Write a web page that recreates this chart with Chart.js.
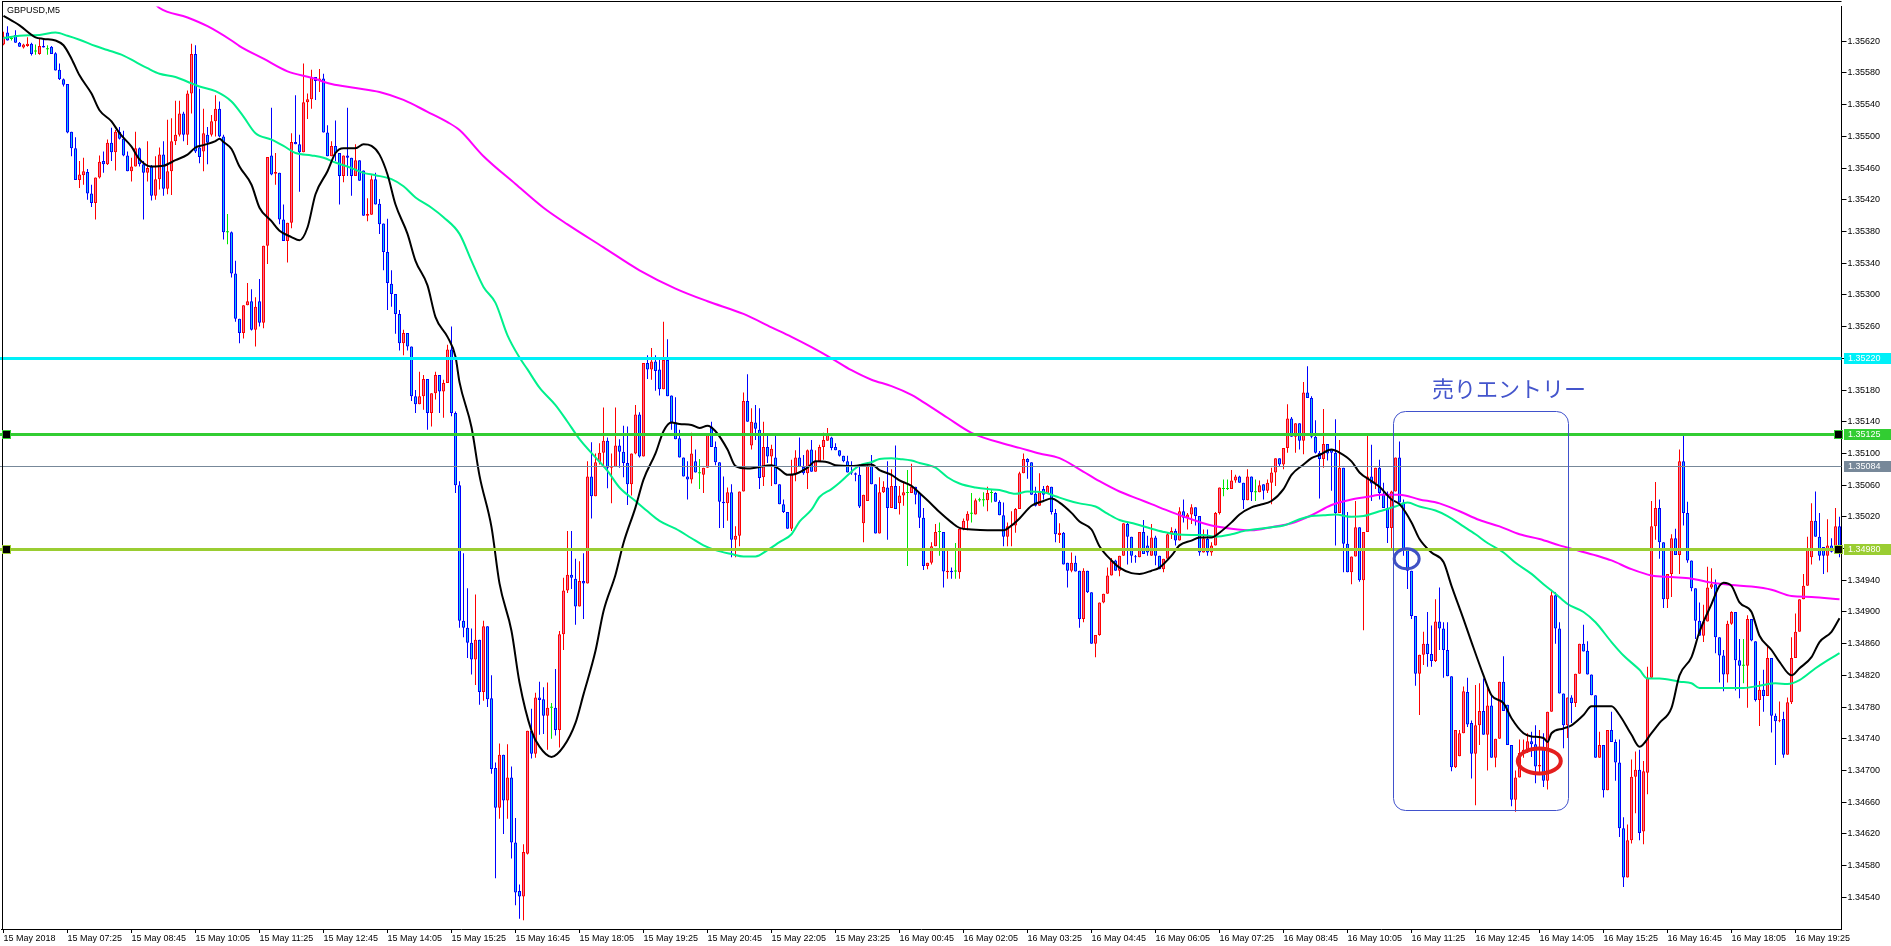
<!DOCTYPE html>
<html>
<head>
<meta charset="utf-8">
<title>GBPUSD,M5</title>
<script src="https://cdn.jsdelivr.net/npm/chart.js@4/dist/chart.umd.min.js"></script>
<style>
  html, body { margin: 0; padding: 0; background: #fff; }
  #wrap { width: 1891px; height: 946px; position: relative; }
</style>
</head>
<body>
<div id="wrap"><canvas id="chart"></canvas></div>
<script>
// GBPUSD M5, one entry per bar, first bar 15 May 2018 06:05
const openPrices = [
1.35616,1.35631,1.35623,1.35628,1.35618,1.35612,1.35614,1.35617,1.35607,1.35604,
1.35614,1.35610,1.35613,1.35605,1.35584,1.35572,1.35566,1.35506,1.35485,1.35445,
1.35451,1.35455,1.35428,1.35416,1.35448,1.35469,1.35465,1.35492,1.35480,1.35506,
1.35497,1.35476,1.35456,1.35462,1.35485,1.35465,1.35454,1.35462,1.35425,1.35446,
1.35477,1.35434,1.35456,1.35494,1.35502,1.35529,1.35502,1.35554,1.35604,1.35486,
1.35481,1.35502,1.35502,1.35519,1.35535,1.35500,1.35379,1.35379,1.35327,1.35270,
1.35252,1.35287,1.35292,1.35256,1.35292,1.35265,1.35362,1.35476,1.35453,1.35454,
1.35395,1.35368,1.35391,1.35493,1.35490,1.35480,1.35543,1.35547,1.35575,1.35570,
1.35573,1.35505,1.35475,1.35488,1.35479,1.35450,1.35476,1.35473,1.35450,1.35470,
1.35457,1.35400,1.35401,1.35446,1.35415,1.35390,1.35354,1.35314,1.35301,1.35276,
1.35239,1.35252,1.35235,1.35172,1.35162,1.35172,1.35194,1.35151,1.35176,1.35199,
1.35178,1.35189,1.35231,1.35151,1.35060,1.34889,1.34880,1.34861,1.34840,1.34865,
1.34799,1.34882,1.34791,1.34703,1.34653,1.34720,1.34662,1.34691,1.34609,1.34548,
1.34541,1.34595,1.34750,1.34721,1.34792,1.34790,1.34769,1.34779,1.34779,1.34751,
1.34872,1.34927,1.34947,1.34942,1.34907,1.34939,1.34936,1.35071,1.35046,1.35089,
1.35101,1.35116,1.35082,1.35083,1.35110,1.35102,1.35088,1.35061,1.35100,1.35149,
1.35096,1.35214,1.35206,1.35216,1.35206,1.35181,1.35218,1.35173,1.35139,1.35119,
1.35095,1.35071,1.35067,1.35090,1.35075,1.35073,1.35082,1.35134,1.35108,1.35089,
1.35039,1.35037,1.35051,1.34991,1.34996,1.35052,1.35166,1.35110,1.35139,1.35130,
1.35070,1.35108,1.35096,1.35095,1.35061,1.35036,1.35026,1.35005,1.35074,1.35095,
1.35083,1.35075,1.35105,1.35077,1.35090,1.35108,1.35116,1.35120,1.35108,1.35104,
1.35097,1.35090,1.35076,1.35075,1.35073,1.35012,1.35040,1.35084,1.35061,1.34999,
1.35051,1.35057,1.35031,1.35059,1.35037,1.35047,1.35050,1.35050,1.35058,1.35050,
1.35019,1.34958,1.34962,1.34983,1.35001,1.35001,1.34950,1.34952,1.34951,1.34950,
1.35005,1.35015,1.35024,1.35023,1.35041,1.35041,1.35041,1.35050,1.35050,1.35039,
1.35022,1.34995,1.35008,1.35009,1.35030,1.35075,1.35093,1.35089,1.35049,1.35034,
1.35055,1.35049,1.35058,1.35025,1.34997,1.35000,1.34962,1.34952,1.34962,1.34952,
1.34891,1.34952,1.34925,1.34860,1.34871,1.34912,1.34923,1.34946,1.34965,1.34952,
1.34971,1.35011,1.34995,1.34970,1.34969,1.35001,1.34984,1.34971,1.34994,1.34971,
1.34954,1.34967,1.34998,1.35002,1.34990,1.35027,1.35019,1.35023,1.35032,1.35021,
1.34975,1.34992,1.34975,1.34984,1.35025,1.35055,1.35055,1.35055,1.35066,1.35071,
1.35063,1.35041,1.35071,1.35051,1.35051,1.35061,1.35053,1.35063,1.35076,1.35094,
1.35086,1.35107,1.35144,1.35121,1.35138,1.35116,1.35177,1.35170,1.35121,1.35101,
1.35093,1.35112,1.35105,1.35101,1.35025,1.35082,1.34986,1.34950,1.34970,1.35007,
1.34940,1.35001,1.35071,1.35062,1.35082,1.35049,1.35031,1.35006,1.35052,1.35095,
1.35038,1.34979,1.34952,1.34895,1.34822,1.34846,1.34860,1.34847,1.34838,1.34888,
1.34879,1.34852,1.34819,1.34704,1.34718,1.34747,1.34799,1.34760,1.34721,1.34757,
1.34775,1.34745,1.34782,1.34716,1.34740,1.34812,1.34783,1.34732,1.34663,1.34691,
1.34722,1.34726,1.34737,1.34733,1.34705,1.34728,1.34687,1.34774,1.34921,1.34879,
1.34797,1.34757,1.34792,1.34785,1.34822,1.34860,1.34851,1.34821,1.34795,1.34716,
1.34732,1.34675,1.34751,1.34736,1.34710,1.34627,1.34565,1.34612,1.34692,1.34701,
1.34623,1.34697,1.34817,1.35008,1.35031,1.34988,1.34916,1.34948,1.34993,1.34972,
1.35090,1.35025,1.34965,1.34930,1.34889,1.34870,1.34888,1.34931,1.34935,1.34868,
1.34845,1.34821,1.34885,1.34900,1.34839,1.34832,1.34832,1.34891,1.34863,1.34789,
1.34802,1.34794,1.34842,1.34769,1.34762,1.34765,1.34720,1.34786,1.34842,1.34875,
1.34916,1.34933,1.34969,1.35015,1.34995,1.34982,1.34971,1.34984,1.34976,1.35008
];
const highPrices = [
1.35632,1.35639,1.35625,1.35634,1.35619,1.35617,1.35625,1.35618,1.35616,1.35623,
1.35623,1.35615,1.35614,1.35606,1.35592,1.35573,1.35566,1.35506,1.35499,1.35469,
1.35473,1.35459,1.35439,1.35448,1.35476,1.35481,1.35496,1.35511,1.35508,1.35512,
1.35507,1.35481,1.35473,1.35506,1.35486,1.35469,1.35494,1.35464,1.35475,1.35486,
1.35494,1.35521,1.35523,1.35545,1.35545,1.35531,1.35558,1.35617,1.35615,1.35560,
1.35535,1.35512,1.35527,1.35552,1.35544,1.35502,1.35402,1.35380,1.35343,1.35270,
1.35287,1.35315,1.35307,1.35297,1.35320,1.35362,1.35474,1.35536,1.35479,1.35454,
1.35414,1.35391,1.35504,1.35552,1.35502,1.35592,1.35554,1.35584,1.35575,1.35585,
1.35579,1.35514,1.35494,1.35520,1.35479,1.35476,1.35536,1.35473,1.35490,1.35470,
1.35457,1.35422,1.35451,1.35454,1.35421,1.35390,1.35396,1.35331,1.35301,1.35281,
1.35256,1.35252,1.35235,1.35180,1.35203,1.35199,1.35194,1.35176,1.35203,1.35199,
1.35193,1.35237,1.35260,1.35153,1.35065,1.34974,1.34930,1.34879,1.34922,1.34865,
1.34889,1.34882,1.34820,1.34710,1.34734,1.34720,1.34733,1.34705,1.34640,1.34556,
1.34607,1.34750,1.34778,1.34798,1.34812,1.34805,1.34811,1.34785,1.34828,1.34876,
1.34943,1.35002,1.35002,1.34967,1.34964,1.34974,1.35090,1.35114,1.35100,1.35113,
1.35158,1.35120,1.35100,1.35158,1.35118,1.35135,1.35134,1.35100,1.35161,1.35152,
1.35214,1.35224,1.35233,1.35224,1.35218,1.35266,1.35244,1.35173,1.35171,1.35130,
1.35095,1.35090,1.35126,1.35105,1.35093,1.35082,1.35125,1.35140,1.35115,1.35089,
1.35071,1.35057,1.35061,1.35008,1.35052,1.35177,1.35200,1.35157,1.35161,1.35157,
1.35140,1.35125,1.35111,1.35125,1.35061,1.35042,1.35026,1.35092,1.35104,1.35120,
1.35098,1.35105,1.35117,1.35104,1.35111,1.35126,1.35132,1.35121,1.35113,1.35104,
1.35097,1.35097,1.35090,1.35076,1.35085,1.35048,1.35089,1.35098,1.35061,1.35070,
1.35065,1.35090,1.35080,1.35110,1.35059,1.35063,1.35079,1.35087,1.35058,1.35050,
1.35031,1.34962,1.34988,1.35011,1.35013,1.35001,1.34979,1.34956,1.34987,1.35005,
1.35018,1.35027,1.35050,1.35043,1.35044,1.35051,1.35058,1.35054,1.35051,1.35041,
1.35038,1.35013,1.35027,1.35031,1.35077,1.35100,1.35094,1.35089,1.35058,1.35075,
1.35059,1.35060,1.35058,1.35030,1.35012,1.35001,1.34962,1.34975,1.34971,1.34952,
1.34955,1.34952,1.34925,1.34871,1.34912,1.34923,1.34956,1.34968,1.34966,1.34971,
1.35012,1.35013,1.34995,1.34972,1.35001,1.35016,1.34996,1.35011,1.34996,1.34971,
1.34967,1.35000,1.35007,1.35005,1.35032,1.35042,1.35025,1.35036,1.35032,1.35021,
1.35004,1.35004,1.34988,1.35026,1.35057,1.35067,1.35067,1.35079,1.35073,1.35072,
1.35063,1.35080,1.35071,1.35067,1.35066,1.35061,1.35067,1.35082,1.35094,1.35094,
1.35107,1.35162,1.35146,1.35138,1.35138,1.35190,1.35210,1.35172,1.35142,1.35103,
1.35156,1.35112,1.35105,1.35143,1.35117,1.35082,1.35026,1.34970,1.35040,1.35007,
1.35001,1.35125,1.35111,1.35082,1.35092,1.35063,1.35052,1.35053,1.35095,1.35115,
1.35042,1.34979,1.34952,1.34895,1.34846,1.34875,1.34900,1.34883,1.34916,1.34931,
1.34887,1.34887,1.34819,1.34751,1.34751,1.34806,1.34817,1.34763,1.34808,1.34810,
1.34816,1.34806,1.34795,1.34740,1.34812,1.34844,1.34783,1.34732,1.34700,1.34739,
1.34739,1.34747,1.34749,1.34757,1.34751,1.34747,1.34774,1.34928,1.34925,1.34887,
1.34797,1.34792,1.34795,1.34822,1.34860,1.34884,1.34863,1.34821,1.34795,1.34749,
1.34732,1.34751,1.34774,1.34739,1.34739,1.34641,1.34632,1.34714,1.34724,1.34726,
1.34712,1.34831,1.35040,1.35064,1.35042,1.34988,1.34948,1.34998,1.35005,1.35105,
1.35123,1.35039,1.34965,1.34930,1.34912,1.34909,1.34957,1.34955,1.34941,1.34868,
1.34852,1.34889,1.34901,1.34900,1.34866,1.34866,1.34896,1.34891,1.34863,1.34813,
1.34827,1.34856,1.34842,1.34772,1.34787,1.34774,1.34792,1.34868,1.34898,1.34916,
1.34948,1.34995,1.35037,1.35052,1.35025,1.34982,1.35017,1.34993,1.35031,1.35020
];
const lowPrices = [
1.35615,1.35621,1.35621,1.35618,1.35613,1.35611,1.35613,1.35602,1.35603,1.35603,
1.35612,1.35603,1.35604,1.35583,1.35571,1.35563,1.35504,1.35475,1.35445,1.35435,
1.35439,1.35420,1.35411,1.35395,1.35447,1.35454,1.35464,1.35469,1.35457,1.35496,
1.35475,1.35456,1.35443,1.35462,1.35462,1.35395,1.35443,1.35419,1.35420,1.35433,
1.35425,1.35427,1.35426,1.35489,1.35500,1.35494,1.35489,1.35529,1.35479,1.35466,
1.35456,1.35465,1.35500,1.35500,1.35499,1.35370,1.35364,1.35322,1.35266,1.35239,
1.35245,1.35287,1.35255,1.35235,1.35260,1.35258,1.35339,1.35451,1.35439,1.35389,
1.35368,1.35341,1.35384,1.35490,1.35430,1.35480,1.35522,1.35535,1.35546,1.35556,
1.35505,1.35475,1.35475,1.35469,1.35414,1.35442,1.35450,1.35425,1.35450,1.35444,
1.35400,1.35393,1.35401,1.35414,1.35377,1.35331,1.35281,1.35285,1.35251,1.35230,
1.35224,1.35230,1.35166,1.35151,1.35162,1.35155,1.35130,1.35134,1.35168,1.35151,
1.35145,1.35189,1.35147,1.35050,1.34880,1.34868,1.34842,1.34821,1.34808,1.34783,
1.34788,1.34780,1.34696,1.34564,1.34639,1.34620,1.34639,1.34589,1.34530,1.34513,
1.34511,1.34594,1.34715,1.34716,1.34745,1.34746,1.34726,1.34740,1.34744,1.34729,
1.34852,1.34924,1.34929,1.34884,1.34907,1.34891,1.34936,1.35018,1.35046,1.35086,
1.35083,1.35056,1.35037,1.35083,1.35082,1.35070,1.35035,1.35047,1.35099,1.35095,
1.35096,1.35194,1.35193,1.35179,1.35173,1.35181,1.35172,1.35130,1.35118,1.35095,
1.35071,1.35042,1.35062,1.35076,1.35055,1.35050,1.35082,1.35108,1.35085,1.35006,
1.35006,1.35015,1.34969,1.34969,1.34983,1.35052,1.35140,1.35105,1.35117,1.35055,
1.35059,1.35088,1.35059,1.35061,1.35036,1.35025,1.35005,1.35002,1.35065,1.35083,
1.35073,1.35055,1.35077,1.35077,1.35090,1.35092,1.35116,1.35104,1.35104,1.35096,
1.35089,1.35076,1.35073,1.35065,1.35031,1.34988,1.35040,1.35061,1.34999,1.34999,
1.35050,1.34991,1.35031,1.35030,1.35023,1.35034,1.34958,1.35050,1.35036,1.35006,
1.34953,1.34954,1.34960,1.34983,1.34971,1.34931,1.34942,1.34942,1.34942,1.34942,
1.35003,1.35003,1.35013,1.35023,1.35039,1.35033,1.35027,1.35038,1.35039,1.35022,
1.34983,1.34983,1.34983,1.35000,1.35030,1.35075,1.35068,1.35048,1.35033,1.35034,
1.35042,1.35049,1.35023,1.34988,1.34987,1.34960,1.34931,1.34950,1.34951,1.34880,
1.34887,1.34924,1.34860,1.34843,1.34870,1.34911,1.34923,1.34946,1.34952,1.34945,
1.34971,1.34960,1.34962,1.34962,1.34969,1.34973,1.34971,1.34971,1.34959,1.34954,
1.34950,1.34967,1.34992,1.34984,1.34990,1.35013,1.35004,1.35011,1.35009,1.34971,
1.34975,1.34971,1.34971,1.34984,1.35023,1.35046,1.35054,1.35055,1.35063,1.35063,
1.35030,1.35041,1.35040,1.35040,1.35051,1.35042,1.35050,1.35036,1.35059,1.35084,
1.35080,1.35101,1.35121,1.35101,1.35105,1.35099,1.35170,1.35119,1.35100,1.35043,
1.35082,1.35091,1.35053,1.34984,1.35025,1.34950,1.34950,1.34935,1.34970,1.34938,
1.34877,1.35001,1.35040,1.35055,1.35042,1.35031,1.34987,1.34977,1.35052,1.35038,
1.34971,1.34929,1.34891,1.34807,1.34770,1.34833,1.34831,1.34831,1.34837,1.34852,
1.34817,1.34819,1.34699,1.34703,1.34718,1.34747,1.34755,1.34690,1.34656,1.34732,
1.34745,1.34700,1.34716,1.34704,1.34740,1.34775,1.34732,1.34655,1.34648,1.34691,
1.34716,1.34722,1.34717,1.34684,1.34696,1.34679,1.34676,1.34774,1.34860,1.34797,
1.34728,1.34741,1.34760,1.34780,1.34822,1.34850,1.34821,1.34795,1.34716,1.34716,
1.34666,1.34675,1.34736,1.34687,1.34616,1.34553,1.34565,1.34608,1.34646,1.34612,
1.34607,1.34670,1.34817,1.34991,1.34967,1.34905,1.34905,1.34919,1.34972,1.34948,
1.35009,1.34962,1.34926,1.34866,1.34870,1.34862,1.34888,1.34929,1.34848,1.34811,
1.34800,1.34811,1.34884,1.34801,1.34791,1.34810,1.34779,1.34863,1.34787,1.34756,
1.34774,1.34794,1.34748,1.34707,1.34761,1.34716,1.34720,1.34784,1.34842,1.34875,
1.34916,1.34933,1.34960,1.34995,1.34965,1.34948,1.34950,1.34975,1.34976,1.34969
];
const closePrices = [
1.35626,1.35621,1.35623,1.35618,1.35613,1.35616,1.35617,1.35604,1.35607,1.35614,
1.35612,1.35610,1.35604,1.35583,1.35572,1.35565,1.35505,1.35485,1.35445,1.35452,
1.35456,1.35428,1.35416,1.35448,1.35468,1.35465,1.35492,1.35480,1.35506,1.35497,
1.35476,1.35456,1.35462,1.35485,1.35465,1.35454,1.35460,1.35425,1.35446,1.35477,
1.35434,1.35456,1.35494,1.35502,1.35529,1.35502,1.35554,1.35604,1.35481,1.35474,
1.35504,1.35492,1.35519,1.35535,1.35500,1.35379,1.35379,1.35327,1.35270,1.35252,
1.35287,1.35292,1.35256,1.35285,1.35265,1.35362,1.35474,1.35452,1.35455,1.35395,
1.35368,1.35391,1.35493,1.35490,1.35480,1.35543,1.35547,1.35575,1.35570,1.35573,
1.35505,1.35475,1.35488,1.35479,1.35450,1.35476,1.35473,1.35450,1.35470,1.35444,
1.35400,1.35402,1.35446,1.35414,1.35389,1.35354,1.35315,1.35301,1.35276,1.35239,
1.35252,1.35235,1.35172,1.35162,1.35172,1.35194,1.35151,1.35176,1.35199,1.35178,
1.35189,1.35231,1.35151,1.35060,1.34889,1.34880,1.34861,1.34840,1.34865,1.34799,
1.34882,1.34790,1.34702,1.34653,1.34720,1.34662,1.34691,1.34609,1.34546,1.34541,
1.34597,1.34750,1.34721,1.34792,1.34789,1.34769,1.34779,1.34779,1.34751,1.34872,
1.34927,1.34947,1.34943,1.34907,1.34939,1.34936,1.35071,1.35046,1.35089,1.35101,
1.35116,1.35082,1.35084,1.35110,1.35102,1.35088,1.35061,1.35100,1.35149,1.35096,
1.35214,1.35206,1.35216,1.35204,1.35181,1.35218,1.35172,1.35139,1.35118,1.35095,
1.35071,1.35067,1.35100,1.35076,1.35075,1.35082,1.35125,1.35108,1.35089,1.35039,
1.35037,1.35051,1.34991,1.34996,1.35052,1.35166,1.35140,1.35140,1.35131,1.35069,
1.35108,1.35096,1.35106,1.35061,1.35036,1.35026,1.35005,1.35074,1.35095,1.35083,
1.35075,1.35104,1.35077,1.35090,1.35108,1.35117,1.35125,1.35107,1.35104,1.35097,
1.35090,1.35076,1.35075,1.35073,1.35033,1.35048,1.35084,1.35061,1.34999,1.35051,
1.35058,1.35031,1.35059,1.35030,1.35047,1.35051,1.35050,1.35058,1.35048,1.35019,
1.34958,1.34962,1.34983,1.35001,1.35001,1.34951,1.34952,1.34950,1.34951,1.35005,
1.35015,1.35024,1.35024,1.35041,1.35041,1.35041,1.35050,1.35050,1.35039,1.35022,
1.34995,1.35008,1.35009,1.35030,1.35075,1.35093,1.35089,1.35048,1.35034,1.35051,
1.35048,1.35059,1.35026,1.34998,1.35000,1.34960,1.34952,1.34962,1.34951,1.34891,
1.34952,1.34925,1.34860,1.34871,1.34912,1.34923,1.34946,1.34965,1.34952,1.34971,
1.35012,1.34995,1.34971,1.34969,1.35001,1.34973,1.34975,1.34994,1.34971,1.34954,
1.34967,1.34998,1.35002,1.34990,1.35027,1.35019,1.35023,1.35032,1.35021,1.34975,
1.34993,1.34975,1.34984,1.35025,1.35057,1.35055,1.35055,1.35066,1.35071,1.35063,
1.35041,1.35071,1.35051,1.35051,1.35060,1.35053,1.35063,1.35076,1.35094,1.35086,
1.35107,1.35144,1.35121,1.35138,1.35116,1.35177,1.35170,1.35121,1.35101,1.35093,
1.35112,1.35100,1.35101,1.35025,1.35082,1.34986,1.34950,1.34970,1.35007,1.34940,
1.35001,1.35071,1.35062,1.35082,1.35050,1.35031,1.35006,1.35052,1.35095,1.35038,
1.34979,1.34952,1.34895,1.34822,1.34846,1.34860,1.34847,1.34838,1.34888,1.34879,
1.34852,1.34819,1.34704,1.34751,1.34747,1.34800,1.34758,1.34721,1.34757,1.34775,
1.34745,1.34782,1.34716,1.34740,1.34812,1.34775,1.34732,1.34663,1.34691,1.34722,
1.34726,1.34737,1.34733,1.34705,1.34707,1.34687,1.34774,1.34921,1.34879,1.34797,
1.34757,1.34792,1.34785,1.34822,1.34860,1.34850,1.34821,1.34795,1.34716,1.34732,
1.34675,1.34751,1.34736,1.34710,1.34627,1.34565,1.34612,1.34692,1.34701,1.34621,
1.34699,1.34817,1.35008,1.35031,1.34988,1.34916,1.34948,1.34993,1.34972,1.35090,
1.35025,1.34965,1.34930,1.34889,1.34870,1.34888,1.34931,1.34935,1.34868,1.34845,
1.34821,1.34885,1.34900,1.34839,1.34832,1.34832,1.34891,1.34864,1.34789,1.34802,
1.34794,1.34842,1.34769,1.34762,1.34763,1.34720,1.34786,1.34842,1.34875,1.34916,
1.34933,1.34980,1.35015,1.34995,1.34971,1.34971,1.34984,1.34976,1.35008,1.34974
];

// moving averages: [bar index, price]
const maFast = [[0,1.35652],[4,1.35640],[8,1.35625],[10,1.35623],[13,1.35621],[15,1.35615],[17,1.35598],[19,1.35577],[22,1.35554],[24,1.35533],[27,1.35519],[29,1.35504],[32,1.35487],[34,1.35471],[37,1.35462],[40,1.35463],[43,1.35470],[46,1.35477],[48,1.35486],[50,1.35489],[53,1.35494],[54,1.35497],[55,1.35493],[57,1.35484],[59,1.35462],[62,1.35439],[64,1.35410],[67,1.35393],[69,1.35381],[72,1.35373],[74,1.35369],[76,1.35385],[78,1.35427],[81,1.35456],[83,1.35479],[85,1.35485],[88,1.35485],[90,1.35490],[92,1.35488],[94,1.35477],[96,1.35452],[98,1.35414],[101,1.35377],[103,1.35343],[106,1.35312],[108,1.35272],[111,1.35247],[113,1.35222],[114,1.35190],[117,1.35133],[119,1.35072],[122,1.35007],[124,1.34936],[127,1.34876],[129,1.34811],[132,1.34750],[134,1.34730],[137,1.34717],[140,1.34730],[143,1.34760],[145,1.34796],[148,1.34851],[150,1.34901],[153,1.34947],[155,1.34987],[158,1.35032],[160,1.35067],[163,1.35100],[165,1.35128],[167,1.35139],[169,1.35137],[172,1.35136],[174,1.35132],[176,1.35135],[178,1.35128],[181,1.35105],[183,1.35084],[186,1.35081],[188,1.35082],[192,1.35085],[194,1.35080],[196,1.35073],[198,1.35074],[201,1.35082],[203,1.35090],[206,1.35089],[208,1.35085],[212,1.35084],[214,1.35085],[217,1.35086],[219,1.35079],[222,1.35073],[224,1.35066],[227,1.35059],[229,1.35050],[232,1.35036],[234,1.35026],[237,1.35013],[239,1.35006],[242,1.35004],[246,1.35003],[250,1.35003],[252,1.35009],[254,1.35018],[257,1.35034],[260,1.35040],[262,1.35043],[264,1.35038],[267,1.35025],[269,1.35014],[272,1.35004],[274,1.34983],[277,1.34965],[279,1.34956],[282,1.34949],[284,1.34948],[287,1.34952],[289,1.34956],[292,1.34971],[294,1.34984],[297,1.34990],[299,1.34994],[302,1.34994],[304,1.35000],[307,1.35013],[309,1.35023],[312,1.35032],[314,1.35035],[317,1.35040],[320,1.35055],[322,1.35073],[325,1.35086],[327,1.35094],[329,1.35098],[332,1.35105],[334,1.35101],[337,1.35090],[339,1.35076],[342,1.35065],[344,1.35058],[347,1.35042],[349,1.35036],[352,1.35013],[354,1.34992],[357,1.34975],[360,1.34963],[362,1.34933],[365,1.34891],[367,1.34862],[370,1.34820],[372,1.34795],[375,1.34785],[377,1.34766],[380,1.34747],[382,1.34743],[385,1.34741],[386,1.34736],[387,1.34747],[390,1.34753],[392,1.34757],[395,1.34770],[397,1.34781],[400,1.34781],[402,1.34781],[404,1.34770],[407,1.34745],[409,1.34730],[412,1.34747],[414,1.34760],[417,1.34779],[419,1.34820],[422,1.34843],[424,1.34875],[427,1.34910],[429,1.34933],[430,1.34937],[432,1.34933],[434,1.34912],[437,1.34900],[439,1.34870],[442,1.34852],[444,1.34837],[447,1.34820],[449,1.34829],[452,1.34843],[454,1.34862],[457,1.34875],[459,1.34892]];
const maMid = [[0,1.35624],[4,1.35627],[9,1.35628],[13,1.35631],[16,1.35627],[19,1.35622],[23,1.35614],[26,1.35609],[30,1.35602],[33,1.35594],[36,1.35586],[39,1.35579],[43,1.35575],[46,1.35569],[49,1.35563],[53,1.35557],[57,1.35544],[60,1.35525],[63,1.35504],[67,1.35496],[70,1.35488],[73,1.35479],[77,1.35476],[80,1.35473],[83,1.35467],[87,1.35460],[90,1.35454],[93,1.35451],[97,1.35446],[100,1.35437],[103,1.35423],[107,1.35410],[110,1.35398],[114,1.35377],[117,1.35343],[120,1.35310],[123,1.35290],[126,1.35249],[129,1.35221],[131,1.35206],[134,1.35183],[138,1.35161],[141,1.35140],[144,1.35118],[148,1.35095],[151,1.35078],[154,1.35057],[158,1.35040],[161,1.35027],[164,1.35015],[168,1.35005],[172,1.34993],[175,1.34984],[178,1.34978],[182,1.34973],[185,1.34970],[188,1.34970],[191,1.34978],[194,1.34988],[197,1.34998],[199,1.35014],[202,1.35029],[204,1.35045],[207,1.35055],[209,1.35063],[212,1.35077],[214,1.35085],[217,1.35089],[219,1.35093],[222,1.35094],[224,1.35093],[227,1.35091],[229,1.35088],[233,1.35082],[236,1.35070],[239,1.35062],[243,1.35057],[246,1.35055],[249,1.35054],[253,1.35049],[256,1.35052],[260,1.35051],[263,1.35046],[266,1.35041],[269,1.35037],[273,1.35033],[276,1.35024],[279,1.35016],[283,1.35011],[287,1.35005],[290,1.35001],[293,1.34998],[297,1.34997],[300,1.34997],[303,1.34995],[307,1.34998],[310,1.35002],[314,1.35005],[317,1.35007],[320,1.35009],[324,1.35017],[327,1.35021],[330,1.35022],[333,1.35023],[337,1.35020],[340,1.35021],[344,1.35027],[348,1.35033],[351,1.35038],[354,1.35033],[358,1.35028],[361,1.35021],[365,1.35008],[368,1.34998],[371,1.34987],[375,1.34975],[378,1.34962],[382,1.34948],[385,1.34935],[388,1.34923],[391,1.34910],[395,1.34900],[398,1.34887],[402,1.34862],[405,1.34845],[409,1.34827],[411,1.34816],[414,1.34816],[419,1.34812],[422,1.34810],[424,1.34804],[429,1.34804],[435,1.34804],[439,1.34807],[443,1.34810],[446,1.34809],[449,1.34814],[453,1.34829],[456,1.34839],[459,1.34848]];
const maSlow = [[37,1.35672],[39,1.35662],[46,1.35650],[51,1.35639],[57,1.35621],[59,1.35614],[65,1.35598],[71,1.35582],[77,1.35574],[82,1.35566],[88,1.35561],[94,1.35556],[100,1.35546],[106,1.35531],[111,1.35518],[114,1.35508],[120,1.35475],[128,1.35440],[135,1.35410],[141,1.35389],[150,1.35360],[159,1.35331],[168,1.35308],[176,1.35292],[185,1.35276],[192,1.35259],[197,1.35247],[202,1.35234],[207,1.35220],[212,1.35205],[217,1.35193],[222,1.35185],[227,1.35174],[229,1.35168],[236,1.35145],[242,1.35126],[251,1.35111],[254,1.35107],[259,1.35100],[264,1.35094],[269,1.35080],[274,1.35065],[279,1.35052],[284,1.35042],[287,1.35036],[292,1.35026],[297,1.35017],[302,1.35009],[307,1.35005],[312,1.35003],[317,1.35007],[322,1.35012],[327,1.35022],[332,1.35035],[337,1.35042],[342,1.35046],[344,1.35048],[349,1.35048],[354,1.35042],[359,1.35037],[364,1.35027],[369,1.35016],[374,1.35008],[379,1.34998],[384,1.34992],[389,1.34984],[394,1.34977],[399,1.34970],[402,1.34965],[407,1.34954],[412,1.34946],[417,1.34944],[422,1.34942],[427,1.34937],[432,1.34934],[437,1.34932],[442,1.34928],[447,1.34920],[452,1.34919],[459,1.34916]];

const xTickEvery = 16;
const xTickLabels = ["15 May 2018","15 May 07:25","15 May 08:45","15 May 10:05","15 May 11:25","15 May 12:45","15 May 14:05","15 May 15:25","15 May 16:45","15 May 18:05","15 May 19:25","15 May 20:45","15 May 22:05","15 May 23:25","16 May 00:45","16 May 02:05","16 May 03:25","16 May 04:45","16 May 06:05","16 May 07:25","16 May 08:45","16 May 10:05","16 May 11:25","16 May 12:45","16 May 14:05","16 May 15:25","16 May 16:45","16 May 18:05","16 May 19:25"];
const yTickValues = [1.34540,1.34580,1.34620,1.34660,1.34700,1.34740,1.34780,1.34820,1.34860,1.34900,1.34940,1.34980,1.35020,1.35060,1.35100,1.35140,1.35180,1.35220,1.35260,1.35300,1.35340,1.35380,1.35420,1.35460,1.35500,1.35540,1.35580,1.35620];
const yMin = 1.34500, yMax = 1.35664;

// horizontal lines drawn on the chart
const levelPrices = [1.35220, 1.35125, 1.35084, 1.34980];
const levelColors = ['#00f0f8', '#32cd32', '#778899', '#9acd32'];
const levelWidths = [3, 3, 1, 3];
const levelHandles = [false, true, false, true];
const handleBars = [0.6, 458.5];

const entryBox = { fromBar: 347.45, toBar: 391.2, top: 1.35153, bottom: 1.34650 };
const entryText = { bar: 357.1, price: 1.35171, text: '売りエントリー' };
const circleMarks = [
  { bar: 350.8, price: 1.34967, rx: 12.5, ry: 10, color: '#3f51c4', width: 3 },
  { bar: 383.95, price: 1.34712, rx: 21.5, ry: 12.5, color: '#e41e1e', width: 4 }
];

// categories: bar open times
const barTimes = [];
for (let i = 0; i < openPrices.length; i++) {
  const t = new Date(Date.UTC(2018, 4, 15, 6, 5) + i * 300000);
  barTimes.push(t.getUTCDate() + ' May ' + String(t.getUTCHours()).padStart(2, '0') + ':' + String(t.getUTCMinutes()).padStart(2, '0'));
}

function sparseSeries(pairs) {
  const out = new Array(openPrices.length).fill(null);
  pairs.forEach(([bar, v]) => { out[bar] = v; });
  return out;
}

const kind = (i) => closePrices[i] > openPrices[i] ? 'up' : (closePrices[i] < openPrices[i] ? 'down' : 'flat');
const lineColor = { up: '#ff0000', down: '#0000ff', flat: '#00e600' };
const fillColor = { up: '#e8709c', down: '#14c2f0', flat: '#00e600' };

const wickData = highPrices.map((h, i) => [lowPrices[i], h]);
const bodyData = openPrices.map((o, i) => [Math.min(o, closePrices[i]), Math.max(o, closePrices[i])]);

Chart.defaults.font.family = '"Liberation Sans", Arial, sans-serif';
Chart.defaults.font.size = 9;
Chart.defaults.color = '#000';

const overlay = {
  id: 'overlay',
  afterDatasetsDraw(chart) {
    const { ctx, chartArea: a, scales: { x, y } } = chart;
    ctx.save();
    ctx.beginPath();
    ctx.rect(0, a.top, a.right + 1, a.bottom - a.top);
    ctx.clip();
    levelPrices.forEach((p, k) => {
      const py = Math.round(y.getPixelForValue(p));
      ctx.fillStyle = levelColors[k];
      ctx.fillRect(0, py - Math.floor(levelWidths[k] / 2), a.right, levelWidths[k]);
    });
    // entry box
    const bx1 = x.getPixelForValue(entryBox.fromBar), bx2 = x.getPixelForValue(entryBox.toBar);
    const by1 = y.getPixelForValue(entryBox.top), by2 = y.getPixelForValue(entryBox.bottom);
    ctx.strokeStyle = '#4152cc';
    ctx.lineWidth = 1;
    ctx.beginPath();
    ctx.roundRect(Math.round(bx1) + 0.5, Math.round(by1) + 0.5, Math.round(bx2 - bx1), Math.round(by2 - by1), 12);
    ctx.stroke();
    ctx.fillStyle = '#4455cc';
    ctx.font = '22px "Noto Sans CJK JP"';
    ctx.textBaseline = 'alphabetic';
    ctx.fillText(entryText.text, x.getPixelForValue(entryText.bar), y.getPixelForValue(entryText.price));
    circleMarks.forEach(m => {
      ctx.strokeStyle = m.color;
      ctx.lineWidth = m.width;
      ctx.beginPath();
      ctx.ellipse(x.getPixelForValue(m.bar), y.getPixelForValue(m.price), m.rx, m.ry, 0, 0, Math.PI * 2);
      ctx.stroke();
    });
    ctx.restore();
  },
  afterDraw(chart) {
    const { ctx, chartArea: a, scales: { x, y }, width } = chart;
    ctx.save();
    // frame
    ctx.fillStyle = '#000';
    ctx.fillRect(2, 1, 1, a.bottom - 1);
    ctx.fillRect(2, 1, a.right - 2, 1);
    // handles of the selected lines
    levelPrices.forEach((p, k) => {
      if (!levelHandles[k]) return;
      const py = Math.round(y.getPixelForValue(p));
      handleBars.forEach(b => {
        const px = Math.round(x.getPixelForValue(b));
        ctx.fillStyle = levelColors[k];
        ctx.fillRect(px - 4, py - 4, 9, 9);
        ctx.fillStyle = '#000';
        ctx.fillRect(px - 3, py - 3, 7, 7);
      });
    });
    // price labels of the lines on the axis
    ctx.font = '9px "Liberation Sans"';
    ctx.textBaseline = 'middle';
    levelPrices.forEach((p, k) => {
      const py = Math.round(y.getPixelForValue(p));
      ctx.fillStyle = levelColors[k];
      ctx.fillRect(Math.round(a.right) + 2, py - 5, width - a.right, 11);
      ctx.fillStyle = '#fff';
      ctx.fillText(p.toFixed(5), Math.round(a.right) + 6, py + 0.5);
    });
    // symbol
    ctx.fillStyle = '#000';
    ctx.textBaseline = 'alphabetic';
    ctx.fillText('GBPUSD,M5', 7, 13);
    ctx.restore();
  }
};

new Chart(document.getElementById('chart'), {
  type: 'bar',
  data: {
    labels: barTimes,
    datasets: [
      {
        type: 'line', label: 'MA fast', data: sparseSeries(maFast), borderColor: '#000000', borderWidth: 2,
        pointRadius: 0, spanGaps: true, cubicInterpolationMode: 'monotone', order: 1
      },
      {
        type: 'line', label: 'MA mid', data: sparseSeries(maMid), borderColor: '#00f08c', borderWidth: 2,
        pointRadius: 0, spanGaps: true, cubicInterpolationMode: 'monotone', order: 2
      },
      {
        type: 'line', label: 'MA slow', data: sparseSeries(maSlow), borderColor: '#ff00ff', borderWidth: 2,
        pointRadius: 0, spanGaps: true, cubicInterpolationMode: 'monotone', order: 3
      },
      {
        type: 'bar', label: 'body', data: bodyData, grouped: false, barThickness: 3, minBarLength: 1,
        backgroundColor: c => fillColor[kind(c.dataIndex)],
        borderColor: c => lineColor[kind(c.dataIndex)],
        borderWidth: c => kind(c.dataIndex) === 'flat' ? 0 : 1,
        borderSkipped: false, inflateAmount: 0, order: 4
      },
      {
        type: 'bar', label: 'wick', data: wickData, grouped: false, barThickness: 1,
        backgroundColor: c => lineColor[kind(c.dataIndex)], borderWidth: 0, inflateAmount: 0, order: 5
      }
    ]
  },
  options: {
    responsive: true,
    maintainAspectRatio: false,
    animation: false,
    events: [],
    layout: { padding: { left: 1.5, top: 1, right: 0, bottom: 0 } },
    plugins: { legend: { display: false }, tooltip: { enabled: false } },
    scales: {
      x: {
        type: 'category',
        offset: true,
        grid: { drawOnChartArea: false, drawTicks: true, tickLength: 4, color: '#000', offset: false },
        border: { display: true, color: '#000' },
        ticks: {
          autoSkip: false, maxRotation: 0, minRotation: 0, align: 'start', padding: 0,
          callback: v => xTickLabels[v / xTickEvery]
        },
        afterBuildTicks: s => { s.ticks = s.ticks.filter(t => t.value % xTickEvery === 0); },
        afterFit: s => { s.height = 17; }
      },
      y: {
        type: 'linear',
        position: 'right',
        min: yMin,
        max: yMax,
        grid: { drawOnChartArea: false, drawTicks: true, tickLength: 5, color: '#000' },
        border: { display: true, color: '#000' },
        ticks: { padding: 1, autoSkip: false, callback: v => v.toFixed(5) },
        afterBuildTicks: s => { s.ticks = yTickValues.map(v => ({ value: v })); },
        afterFit: s => { s.width = 49.5; }
      }
    }
  },
  plugins: [overlay]
});
</script>
</body>
</html>
